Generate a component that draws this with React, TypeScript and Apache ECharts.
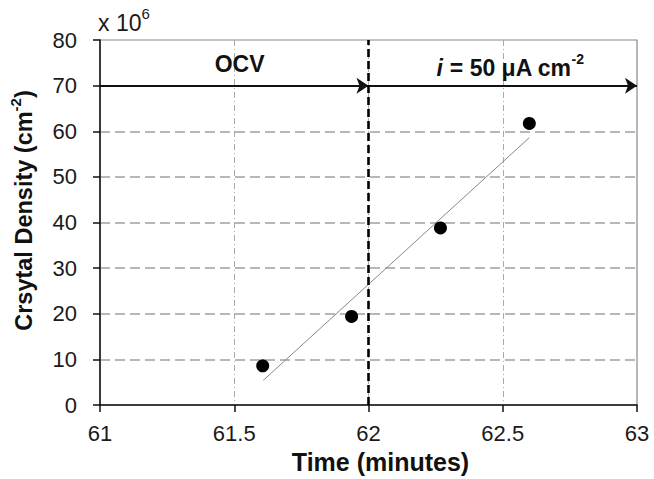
import React, { useEffect, useRef } from "react";
import * as echarts from "echarts";

const pointX = [61.606, 61.937, 62.268, 62.599];
const pointY = [8.6, 19.4, 38.8, 61.7];
const trendX = [61.608, 62.599];
const trendY = [5.4, 58.6];
const xTicks = [61, 61.5, 62, 62.5, 63];
const yTicks = [0, 10, 20, 30, 40, 50, 60, 70, 80];
const phaseChange = 62;
const arrowLevel = 70;
const phaseLabels = ["OCV", "i = 50 μA cm-2"];
const phaseLabelX = [61.52, 62.528];
const phaseLabelY = [74.8, 74.4];

const FONT = "'Liberation Sans', Arial, sans-serif";
const INK = "#111";

export default function App() {
  const ref = useRef<HTMLDivElement>(null);
  useEffect(() => {
    const chart = echarts.init(ref.current!, null, { renderer: "svg" });
    const scatterData = pointX.map((x, i) => [x, pointY[i]]);
    const trendData = trendX.map((x, i) => [x, trendY[i]]);
    chart.setOption({
      animation: false,
      backgroundColor: "#fff",
      grid: {
        left: 100,
        right: 17,
        top: 40,
        bottom: 71,
        show: true,
        borderColor: "#888",
        borderWidth: 1.2,
        backgroundColor: "transparent",
      },
      xAxis: {
        type: "value",
        min: xTicks[0],
        max: xTicks[xTicks.length - 1],
        interval: 0.5,
        name: "Time (minutes)",
        nameLocation: "middle",
        nameGap: 44,
        nameTextStyle: { fontFamily: FONT, fontWeight: "bold", fontSize: 25, color: INK, padding: [0, 0, 0, 24] },
        axisLine: { show: true, onZero: false, lineStyle: { color: INK, width: 1.5 } },
        axisTick: { show: true, inside: false, length: 7, lineStyle: { color: INK, width: 1.5 } },
        axisLabel: { fontFamily: FONT, fontSize: 22, color: "#1a1a1a", margin: 17 },
        splitLine: {
          show: true,
          showMinLine: false,
          showMaxLine: false,
          lineStyle: { color: "#aaa", width: 1, type: [6, 3, 1, 3] },
        },
      },
      yAxis: {
        type: "value",
        min: yTicks[0],
        max: yTicks[yTicks.length - 1],
        interval: 10,
        name: "{b|Crsytal Density (cm}{sup|-2}{b|)}",
        nameLocation: "middle",
        nameGap: 64,
        nameTextStyle: {
          padding: [0, 0, 0, 24],
          rich: {
            b: { fontFamily: FONT, fontWeight: "bold", fontSize: 23.5, color: INK, lineHeight: 28, verticalAlign: "bottom" },
            sup: { fontFamily: FONT, fontWeight: "bold", fontSize: 15, color: INK, lineHeight: 28, verticalAlign: "top" },
          },
        },
        axisLine: { show: true, onZero: false, lineStyle: { color: INK, width: 1.5 } },
        axisTick: { show: true, inside: false, length: 7, lineStyle: { color: INK, width: 1.5 } },
        axisLabel: { fontFamily: FONT, fontSize: 22, color: "#1a1a1a", margin: 23 },
        splitLine: {
          show: true,
          showMinLine: false,
          showMaxLine: false,
          lineStyle: { color: "#a0a0a0", width: 1.5, type: [10, 5] },
        },
      },
      graphic: [
        {
          type: "text",
          left: 98,
          top: 6,
          style: {
            text: "{n|x 10}{sup|6}",
            rich: {
              n: { fontFamily: FONT, fontSize: 23, fill: "#1a1a1a", lineHeight: 28, verticalAlign: "bottom" },
              sup: { fontFamily: FONT, fontSize: 15, fill: "#1a1a1a", lineHeight: 28, verticalAlign: "top" },
            },
          },
        },
      ],
      series: [
        {
          type: "line",
          data: trendData,
          showSymbol: false,
          symbol: "none",
          lineStyle: { color: "#888", width: 1 },
          silent: true,
          z: 3,
          markLine: {
            silent: true,
            symbol: ["none", "arrow"],
            symbolSize: 12,
            label: { show: false },
            lineStyle: { color: INK, width: 2, type: "solid" },
            data: [
              [{ coord: [xTicks[0], arrowLevel] }, { coord: [phaseChange, arrowLevel] }],
              [{ coord: [phaseChange, arrowLevel] }, { coord: [xTicks[xTicks.length - 1], arrowLevel] }],
            ],
          },
        },
        {
          type: "scatter",
          data: scatterData,
          symbol: "circle",
          symbolSize: 13,
          itemStyle: { color: "#000", opacity: 1 },
          z: 4,
          markLine: {
            silent: true,
            symbol: ["none", "none"],
            label: { show: false },
            lineStyle: { color: "#000", width: 2.6, type: [8, 4] },
            data: [{ xAxis: phaseChange }],
          },
          markPoint: {
            silent: true,
            symbol: "circle",
            symbolSize: 0,
            data: [
              {
                coord: [phaseLabelX[0], phaseLabelY[0]],
                label: {
                  show: true,
                  position: "inside",
                  formatter: "{b|" + phaseLabels[0] + "}",
                  rich: {
                    b: { fontFamily: FONT, fontWeight: "bold", fontSize: 23, color: INK },
                  },
                },
              },
              {
                coord: [phaseLabelX[1], phaseLabelY[1]],
                label: {
                  show: true,
                  position: "inside",
                  formatter: "{it|i}{b| = 50 μA cm}{sup|-2}",
                  rich: {
                    it: { fontFamily: FONT, fontWeight: "bold", fontStyle: "italic", fontSize: 23, color: INK, lineHeight: 28, verticalAlign: "bottom" },
                    b: { fontFamily: FONT, fontWeight: "bold", fontSize: 23, color: INK, lineHeight: 28, verticalAlign: "bottom" },
                    sup: { fontFamily: FONT, fontWeight: "bold", fontSize: 14, color: INK, lineHeight: 28, verticalAlign: "top" },
                  },
                },
              },
            ],
          },
        },
      ],
    });
    return () => chart.dispose();
  }, []);
  return <div ref={ref} style={{ width: 654, height: 479, position: "absolute", left: 0, top: 0 }} />;
}
